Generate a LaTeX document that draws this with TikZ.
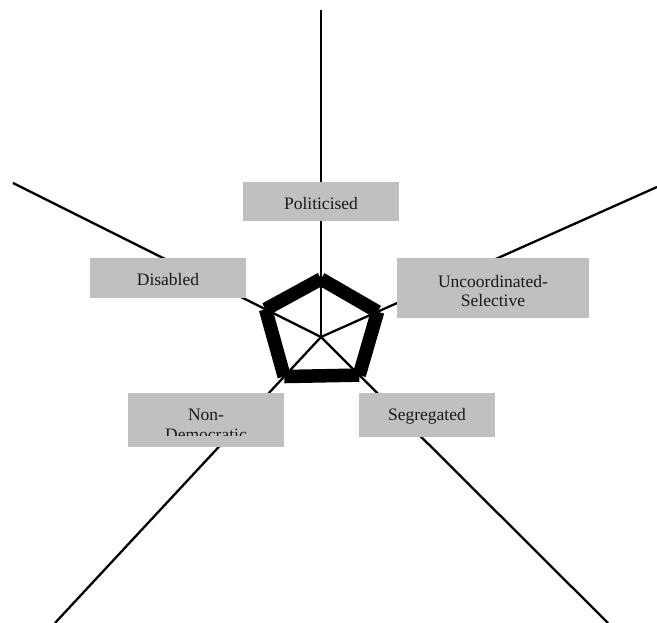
\documentclass[tikz,border=0pt]{standalone}
\usepackage{fontspec}
\setmainfont{Liberation Serif}
\usetikzlibrary{calc}
\definecolor{boxgray}{HTML}{C0C0C0}
\definecolor{txtcol}{HTML}{1A1A1A}
\begin{document}
\begin{tikzpicture}[x=1pt,y=-1pt,
  box/.style={fill=boxgray, draw=none, inner sep=0pt, outer sep=0pt},
  lbl/.style={font=\fontsize{17.5}{20}\selectfont, text=txtcol, anchor=base, inner sep=0pt},
  spoke/.style={line width=2.3pt},
  rim/.style={line width=13.5pt, line cap=butt}]
\useasboundingbox (0,0) rectangle (657,623);

% hub and outer ends of the five spokes
\coordinate (c) at (321,337);
\coordinate (eT)  at (321,10);
\coordinate (eUL) at (13,183);
\coordinate (eUR) at (657,187);
\coordinate (eLL) at (55,623);
\coordinate (eLR) at (608,623);

\draw[spoke] (c) -- (eT);
\draw[spoke] (c) -- (eUL);
\draw[spoke] (c) -- (eUR);
\draw[spoke] (c) -- (eLL);
\draw[spoke] (c) -- (eLR);

% pentagon corners on the spokes
\coordinate (vT)  at ($(c)!58pt!(eT)$);
\coordinate (vUR) at ($(c)!62pt!(eUR)$);
\coordinate (vLR) at ($(c)!54pt!(eLR)$);
\coordinate (vLL) at ($(c)!54pt!(eLL)$);
\coordinate (vUL) at ($(c)!62pt!(eUL)$);

\draw[rim] (vT) -- (vUR);
\draw[rim] (vUR) -- (vLR);
\draw[rim] (vLR) -- (vLL);
\draw[rim] (vLL) -- (vUL);
\draw[rim] (vUL) -- (vT);

% label boxes
\node[box, minimum width=156pt, minimum height=39pt] (pol) at (321,201.5) {};
\node[box, minimum width=156pt, minimum height=40pt] (dis) at (168,278) {};
\node[box, minimum width=192pt, minimum height=60pt] (unc) at (493,288) {};
\node[box, minimum width=156pt, minimum height=54pt] (non) at (206,420) {};
\node[box, minimum width=136pt, minimum height=44pt] (seg) at (427,415) {};

\node[lbl] (polt) at (321,210) {Politicised};
\node[lbl] (dist) at (168,286) {Disabled};
\node[lbl] (unct1) at (493,288) {Uncoordinated-};
\node[lbl] (unct2) at (493,307) {Selective};
\node[lbl] (segt) at (427,420) {Segregated};
\begin{scope}
  \clip (128,393) rectangle (284,435);
  \node[lbl] (nont1) at (206,420) {Non-};
  \node[lbl] (nont2) at (206,440) {Democratic};
\end{scope}
\end{tikzpicture}
\end{document}
